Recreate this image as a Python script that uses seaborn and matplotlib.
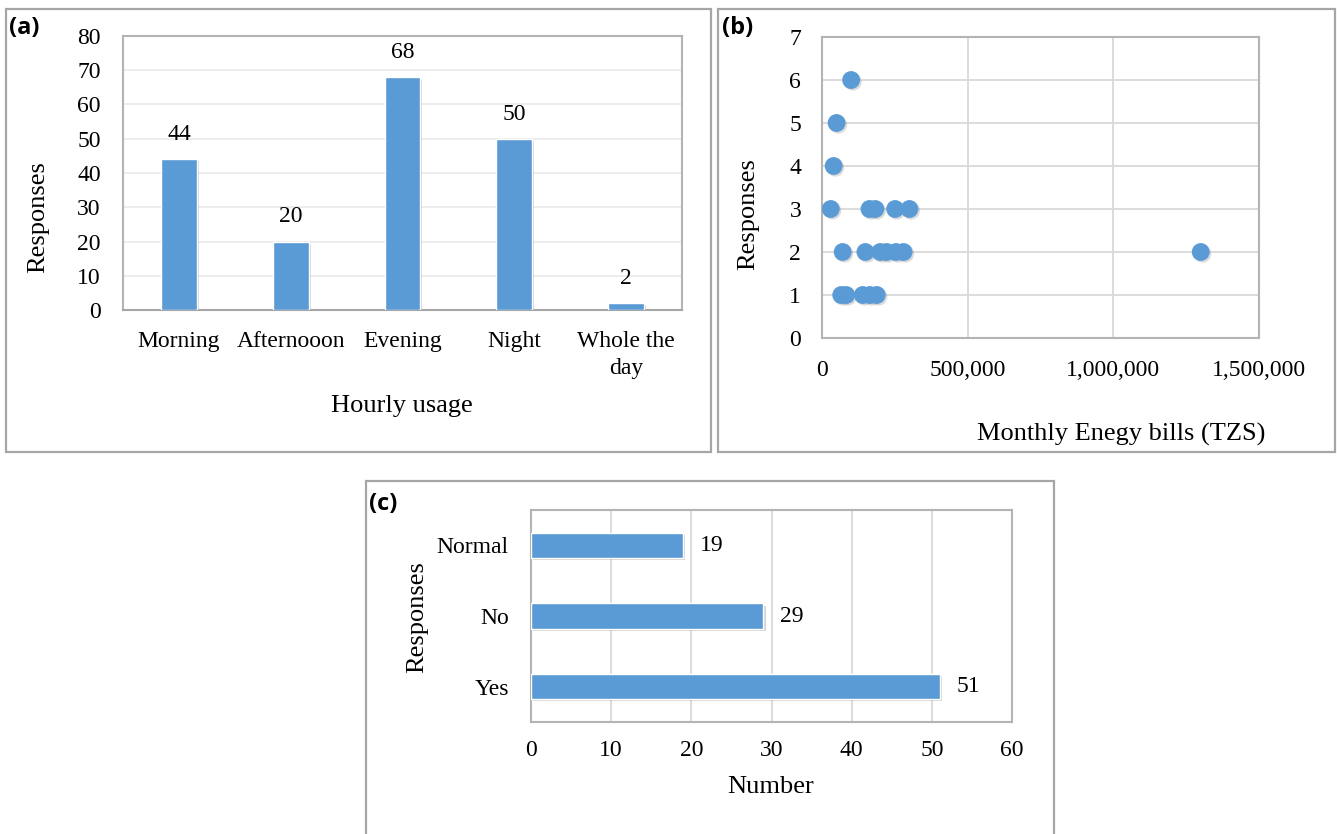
import matplotlib
matplotlib.use("Agg")
import matplotlib.pyplot as plt
import matplotlib.patheffects as pe
from matplotlib.patches import Rectangle
from matplotlib.ticker import FuncFormatter, MultipleLocator
import numpy as np
import pandas as pd
import seaborn as sns

# (a) hourly usage
usage_periods = ["Morning", "Afternooon", "Evening", "Night", "Whole the\nday"]
usage_counts = [44, 20, 68, 50, 2]

# (b) monthly energy bills vs responses
bill_amounts = [100000, 50000, 40000,
                30000, 163000, 183000, 251000, 300000,
                71000, 149000, 200000, 222000, 254000, 280000, 1300000,
                66000, 83000, 140000, 165000, 188000]
bill_responses = [6, 5, 4,
                  3, 3, 3, 3, 3,
                  2, 2, 2, 2, 2, 2, 2,
                  1, 1, 1, 1, 1]

# (c) yes / no / normal responses
answer_labels = ["Normal", "No", "Yes"]
answer_counts = [19, 29, 51]

sns.set_theme(style="white")
plt.rcParams["font.family"] = ["Liberation Serif", "DejaVu Serif"]
plt.rcParams["text.color"] = "black"
plt.rcParams["axes.labelcolor"] = "black"

BLUE = "#5B9BD5"
GRID = "#D9D9D9"
FRAME = "#B4B4B4"
TICK_FS = 17
LABEL_FS = 19
TAG_FS = 17
W, H = 1337, 834

fig = plt.figure(figsize=(W / 100, H / 100), dpi=100)


def ax_rect(x0, y0, x1, y1):
    return [x0 / W, 1 - y1 / H, (x1 - x0) / W, (y1 - y0) / H]


def panel_box(x0, y0, x1, y1):
    fig.patches.append(Rectangle((x0 / W, 1 - y1 / H), (x1 - x0) / W, (y1 - y0) / H,
                                 transform=fig.transFigure, fill=False,
                                 edgecolor="#A6A6A6", linewidth=1.6))


def style_frame(ax):
    for s in ax.spines.values():
        s.set_visible(True)
        s.set_color(FRAME)
        s.set_linewidth(1.5)
    ax.tick_params(length=0, labelsize=TICK_FS, colors="black")


def place_ylabel(ax, text, x_px, y_px, rect):
    x0, y0, x1, y1 = rect
    ax.set_ylabel(text, fontsize=LABEL_FS, va="center")
    ax.yaxis.set_label_coords((x_px - x0) / (x1 - x0), (y1 - y_px) / (y1 - y0))


def place_xlabel(ax, text, x_px, y_px, rect):
    x0, y0, x1, y1 = rect
    ax.set_xlabel(text, fontsize=LABEL_FS, va="center")
    ax.xaxis.set_label_coords((x_px - x0) / (x1 - x0), (y1 - y_px) / (y1 - y0))


def tag(text, x_px, y_px):
    fig.text(x_px / W, 1 - y_px / H, text, fontsize=TAG_FS, fontweight="bold",
             ha="left", va="center", color="black", family=["Open Sans", "DejaVu Sans"])


shadow = [pe.SimplePatchShadow(offset=(1.5, -1.5), shadow_rgbFace="#888888", alpha=0.35),
          pe.Normal()]

panel_box(6, 9, 711, 452)
panel_box(718, 9, 1335, 452)
panel_box(366, 481, 1054, 840)

# ---- (a) bar chart ----
rect_a = (123, 36, 682, 310)
ax_a = fig.add_axes(ax_rect(*rect_a))
df_a = pd.DataFrame({"period": usage_periods, "count": usage_counts})
sns.barplot(data=df_a, x="period", y="count", color=BLUE, width=0.32,
            saturation=1, ax=ax_a, zorder=3)
for p in ax_a.patches:
    p.set_path_effects(shadow)
ax_a.set_ylim(0, 80)
ax_a.set_xlim(-0.5, len(usage_periods) - 0.5)
ax_a.yaxis.set_major_locator(MultipleLocator(10))
ax_a.grid(axis="y", color="#ECECEC", linewidth=1.3, zorder=0)
ax_a.set_axisbelow(True)
style_frame(ax_a)
ax_a.spines["bottom"].set_color("#A6A6A6")
for i, v in enumerate(usage_counts):
    ax_a.text(i, v + 7.2, str(v), ha="center", va="center", fontsize=TICK_FS)
ax_a.tick_params(axis="x", pad=15)
ax_a.tick_params(axis="y", pad=16)
for lbl in ax_a.get_xticklabels():
    lbl.set_linespacing(1.4)
place_xlabel(ax_a, "Hourly usage", 402, 406, rect_a)
place_ylabel(ax_a, "Responses", 38, 217, rect_a)
tag("(a)", 9, 28)

# ---- (b) scatter ----
rect_b = (822, 37, 1259, 338)
ax_b = fig.add_axes(ax_rect(*rect_b))
df_b = pd.DataFrame({"bill": bill_amounts, "resp": bill_responses})
sns.scatterplot(data=df_b, x="bill", y="resp", color=BLUE, s=165,
                edgecolor="none", ax=ax_b, zorder=3)
for c in ax_b.collections:
    c.set_path_effects([pe.SimplePatchShadow(offset=(1.2, -1.2), shadow_rgbFace="#888888",
                                             alpha=0.3), pe.Normal()])
ax_b.set_xlim(0, 1500000)
ax_b.set_ylim(0, 7)
ax_b.xaxis.set_major_locator(MultipleLocator(500000))
ax_b.yaxis.set_major_locator(MultipleLocator(1))
ax_b.xaxis.set_major_formatter(FuncFormatter(lambda v, _: f"{int(v):,}"))
ax_b.grid(True, color=GRID, linewidth=1.3, zorder=0)
ax_b.set_axisbelow(True)
style_frame(ax_b)
ax_b.tick_params(axis="x", pad=16)
ax_b.tick_params(axis="y", pad=15)
place_xlabel(ax_b, "Monthly Enegy bills (TZS)", 1121, 434, rect_b)
place_ylabel(ax_b, "Responses", 748, 214, rect_b)
tag("(b)", 722, 28)

# ---- (c) horizontal bars ----
rect_c = (531, 510, 1012, 722)
ax_c = fig.add_axes(ax_rect(*rect_c))
df_c = pd.DataFrame({"answer": answer_labels, "count": answer_counts})
sns.barplot(data=df_c, y="answer", x="count", color=BLUE, width=0.355,
            saturation=1, orient="h", ax=ax_c, zorder=3)
for p in ax_c.patches:
    p.set_path_effects(shadow)
ax_c.set_xlim(0, 60)
ax_c.set_ylim(len(answer_labels) - 0.5, -0.5)
ax_c.xaxis.set_major_locator(MultipleLocator(10))
ax_c.grid(axis="x", color=GRID, linewidth=1.3, zorder=0)
ax_c.set_axisbelow(True)
style_frame(ax_c)
for i, v in enumerate(answer_counts):
    ax_c.text(v + 2.1, i, str(v), ha="left", va="center", fontsize=TICK_FS)
ax_c.tick_params(axis="x", pad=13)
ax_c.tick_params(axis="y", pad=16)
place_xlabel(ax_c, "Number", 771, 787, rect_c)
place_ylabel(ax_c, "Responses", 417, 617, rect_c)
tag("(c)", 369, 504)

fig.savefig("out.png", dpi=100)
